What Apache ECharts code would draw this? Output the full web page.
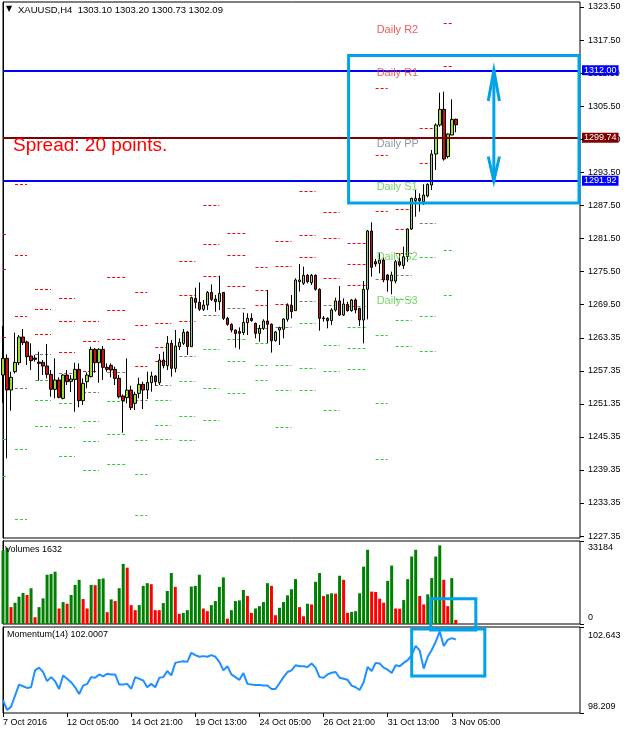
<!DOCTYPE html>
<html><head><meta charset="utf-8">
<script src="https://cdn.jsdelivr.net/npm/echarts/dist/echarts.min.js"></script>
<style>html,body{margin:0;padding:0;background:#fff}#c{width:626px;height:734px}</style>
</head><body><div id="c"></div>
<script>
// ---------- DATA ----------
const opens = [1256.61,1259.64,1253.89,1257.22,1258.85,1263.52,1262.61,1260.07,1259.70,1258.97,1258.91,1258.25,1256.73,1254.01,1255.70,1252.37,1256.61,1255.46,1255.82,1257.64,1251.95,1255.40,1256.31,1261.28,1258.85,1261.28,1258.01,1258.37,1257.64,1256.01,
1252.79,1252.49,1253.88,1251.46,1253.28,1254.92,1253.88,1255.22,1256.43,1255.22,1259.34,1258.31,1262.37,1257.82,1261.76,1262.37,1264.43,1261.76,1270.54,1269.82,1268.55,1269.33,1271.63,1270.42,1269.94,1271.63,1266.91,1265.82,1264.79,1264.50,
1264.31,1266.13,1266.92,1266.01,1264.19,1265.10,1266.43,1265.83,1262.86,1264.80,1264.92,1266.74,1269.28,1268.31,1273.58,1273.28,1274.73,1273.40,1274.73,1272.19,1266.86,1266.92,1266.50,1268.43,1270.07,1267.52,1269.46,1268.31,1270.25,1268.73,
1266.61,1272.19,1282.79,1277.21,1276.91,1277.52,1274.79,1273.70,1273.70,1277.21,1276.49,1278.12,1283.15,1288.30,1288.72,1288.12,1289.15,1291.15,1296.78,1302.05,1304.90,1296.30,1300.23,1303.10];
const highs = [1265.52,1260.37,1257.22,1264.31,1263.88,1264.97,1262.85,1262.37,1260.25,1260.85,1259.34,1262.25,1257.52,1259.64,1256.19,1256.80,1257.52,1256.61,1258.85,1258.73,1256.01,1257.10,1261.76,1261.50,1261.46,1261.88,1258.73,1258.73,1258.13,1256.61,
1253.10,1259.64,1254.67,1253.58,1256.13,1255.40,1257.22,1257.22,1256.61,1260.43,1260.85,1263.70,1262.97,1264.79,1263.27,1264.97,1264.61,1270.85,1272.48,1273.45,1270.24,1271.88,1273.09,1271.15,1274.66,1271.70,1267.21,1266.00,1264.85,1265.28,
1267.95,1267.83,1267.83,1266.13,1265.71,1266.74,1272.07,1266.01,1264.62,1265.40,1266.92,1269.64,1271.16,1274.19,1276.79,1276.31,1274.98,1274.98,1274.92,1272.37,1267.34,1267.10,1268.74,1270.67,1272.80,1270.55,1269.95,1270.43,1270.55,1268.85,
1273.70,1282.97,1284.36,1277.70,1278.73,1278.00,1274.97,1275.40,1277.52,1278.73,1279.94,1283.27,1288.85,1290.24,1289.63,1291.27,1291.45,1297.51,1302.35,1307.93,1308.11,1300.54,1306.72,1303.20];
const lows = [1251.58,1241.47,1250.13,1256.91,1258.43,1262.06,1258.43,1257.52,1259.04,1255.58,1256.61,1256.01,1252.67,1252.37,1252.37,1252.19,1254.79,1253.52,1249.95,1250.74,1251.16,1254.19,1256.19,1257.04,1255.22,1255.70,1257.22,1256.19,1254.79,1252.37,
1246.13,1251.46,1250.25,1250.25,1252.37,1250.43,1252.25,1253.58,1254.67,1254.79,1257.82,1257.52,1256.31,1257.10,1261.16,1262.06,1260.25,1261.76,1268.73,1268.24,1268.24,1268.42,1270.06,1268.12,1268.42,1266.61,1265.58,1264.37,1261.58,1261.28,
1263.89,1263.89,1266.31,1263.28,1262.68,1264.80,1262.38,1260.68,1262.68,1262.07,1263.28,1266.31,1266.92,1268.31,1271.77,1272.98,1273.28,1272.98,1271.95,1264.68,1266.31,1265.10,1265.71,1268.13,1267.34,1267.34,1268.13,1268.13,1267.82,1265.52,
1262.37,1266.73,1274.49,1276.31,1275.09,1273.46,1271.76,1271.28,1273.28,1276.31,1275.88,1277.21,1282.97,1285.39,1286.30,1287.51,1288.91,1290.24,1293.87,1301.75,1295.57,1295.99,1300.23,1300.73];
const closes = [1259.64,1253.89,1256.19,1258.91,1263.52,1262.49,1259.95,1259.22,1259.46,1258.73,1258.25,1256.73,1254.01,1255.70,1252.55,1256.61,1255.40,1255.88,1257.64,1251.95,1255.10,1256.61,1261.28,1258.85,1261.28,1258.01,1257.64,1257.52,1256.01,1252.67,
1251.95,1253.88,1250.67,1253.10,1254.92,1253.88,1255.28,1256.43,1255.40,1259.34,1258.31,1262.37,1257.82,1261.88,1262.55,1264.37,1261.76,1270.67,1269.82,1268.55,1269.33,1271.63,1270.36,1269.94,1271.45,1266.91,1265.82,1264.79,1264.18,1264.19,
1266.19,1266.92,1266.50,1264.19,1265.10,1266.43,1265.83,1262.86,1264.44,1265.22,1266.80,1269.28,1268.13,1273.89,1273.89,1274.73,1273.58,1274.73,1272.19,1266.92,1266.98,1266.50,1268.43,1270.07,1267.52,1269.52,1268.31,1270.25,1268.43,1266.61,
1272.19,1282.79,1276.18,1276.79,1277.52,1273.88,1273.88,1274.79,1277.21,1276.61,1278.12,1283.15,1288.72,1288.72,1288.30,1289.33,1291.27,1296.78,1302.05,1304.90,1295.87,1300.42,1303.08,1302.09];
const volumes = [29408,30487,6745,8499,10927,12411,11601,14299,2698,6745,10252,19695,19965,20910,6205,8769,8094,11601,15648,17672,9983,6205,15648,15514,17942,18212,4722,9848,9173,14299,
24012,22528,7554,5531,7554,15244,16323,15918,5531,5531,8364,13220,20370,14839,4047,4452,5531,14974,15244,19695,6205,5126,7554,9173,14839,18616,2158,5531,9173,9443,
13625,11197,4452,6205,7150,8769,16323,15244,3507,6475,8769,11467,13895,17942,6745,3103,8094,7824,16863,20370,11197,11871,12276,12141,19291,17672,4452,4856,5126,12276,
22933,29678,12950,12816,10118,8499,17267,23338,6205,6071,9578,17942,26980,29678,11197,7824,11871,18346,26980,31432,17672,7150,18346,1632];
const momentum = [98.872,98.366,98.523,99.099,99.675,99.588,99.501,99.536,100.409,100.548,100.321,99.850,100.059,99.850,99.448,100.147,99.972,99.797,99.536,99.187,99.623,99.710,100.059,100.024,100.199,100.094,100.234,100.199,100.199,99.675,
99.675,99.710,99.448,100.059,99.972,99.885,99.536,99.710,99.536,100.024,100.059,100.374,100.147,100.793,100.845,100.880,100.845,101.316,101.194,101.107,101.142,101.107,101.194,101.107,100.845,100.409,100.618,100.199,100.059,99.920,
100.269,99.710,99.675,99.658,99.658,99.623,99.623,99.448,99.448,99.745,100.059,100.321,100.409,100.670,100.618,100.618,100.583,100.758,100.548,100.059,100.024,100.199,100.286,100.321,100.024,99.972,99.920,99.623,99.536,99.396,
99.797,100.583,100.374,100.793,100.758,100.548,100.443,100.269,100.670,100.618,100.793,100.932,101.194,101.665,101.421,100.496,101.107,101.456,101.892,102.416,101.665,101.980,102.067,102.0007];

const priceTicks = [1323.50,1317.50,1311.50,1305.50,1299.50,1293.50,1287.50,1281.50,1275.50,1269.50,1263.35,1257.35,1251.35,1245.35,1239.35,1233.35,1227.35];
const volumeTicks = [0,33184];
const momentumTicks = [98.209,102.643];
const tickBars = [0,16,32,48,64,80,96,112];
const tickLabels = ['7 Oct 2016','12 Oct 05:00','14 Oct 21:00','19 Oct 13:00','24 Oct 05:00','26 Oct 21:00','31 Oct 13:00','3 Nov 05:00'];

// daily pivot levels (one value per trading day)
const dayStart = [0,3,8,14,20,26,33,38,44,50,56,63,68,74,80,86,93,98,104,110];
const dayEnd   = [1,6,12,18,24,31,36,42,48,54,61,66,72,78,84,91,96,102,108,112];
const pivR3 = [1282.15,1291.24,1272.25,1270.56,1266.36,1274.38,1271.62,1265.98,1277.27,1287.42,1282.34,1276.20,1280.84,1289.99,1286.16,1280.65,1308.66,1286.78,1311.80,1334.75];
const pivR2 = [1275.76,1278.33,1268.55,1266.36,1262.72,1268.30,1265.61,1261.60,1271.06,1280.33,1278.45,1271.94,1276.39,1281.97,1281.46,1276.70,1296.50,1283.15,1301.51,1320.52];
const pivR1 = [1263.48,1267.30,1263.98,1260.84,1257.21,1263.10,1258.15,1259.09,1266.36,1274.51,1272.69,1269.24,1269.56,1278.02,1274.19,1273.00,1286.35,1278.79,1295.07,1312.74];
const pivPP = [1257.21,1254.26,1260.34,1256.90,1253.57,1257.08,1252.07,1254.70,1260.09,1267.42,1268.74,1265.20,1265.23,1269.93,1269.37,1269.12,1274.04,1274.79,1284.28,1299.74];
const pivS1 = [1244.86,1243.17,1255.64,1251.44,1248.19,1251.76,1244.68,1251.95,1255.39,1261.35,1263.04,1262.47,1258.46,1265.98,1262.10,1265.36,1263.92,1270.43,1278.06,1291.92];
const pivS2 = [1238.28,1230.32,1251.95,1247.18,1244.49,1245.80,1238.66,1247.56,1249.19,1254.26,1259.03,1258.46,1253.89,1257.90,1257.34,1261.41,1251.57,1266.61,1267.23,1279.20];
const pivS3 = [1226.24,1219.04,1247.37,1241.92,1239.22,1240.47,1231.20,1245.00,1244.68,1248.43,1253.26,1255.58,1247.18,1253.76,1250.13,1257.71,1241.35,1261.76,1260.85,1271.19];

const hLevels = [1312.00, 1299.74, 1291.92];
const bidPrice = 1302.09;
const spreadText = 'Spread: 20 points.';

// ---------- CHART ----------
const FONT = 'Liberation Sans, Arial, sans-serif';
const slots = 145;
const cats = Array.from({length: slots}, (_, i) => String(i));
const n = opens.length;
const candleData = opens.map((o, i) => [o, closes[i], lows[i], highs[i]]);
const volData = volumes.map((v, i) => ({value: v, itemStyle: {color: (i === 0 || v > volumes[i - 1]) ? '#008000' : '#ff0000'}}));
const isTick = idx => tickBars.indexOf(idx) >= 0;

const header = 'XAUUSD,H4  ' + [opens[n-1], highs[n-1], lows[n-1], closes[n-1]].map(v => v.toFixed(2)).join(' ');

const G = [
  {left: 3, top: 2, width: 577, height: 536},
  {left: 3, top: 541, width: 577, height: 83},
  {left: 3, top: 627, width: 577, height: 86}
];

function catAxis(gi, showLabels) {
  return {
    type: 'category', gridIndex: gi, data: cats, boundaryGap: false,
    axisLine: {show: false},
    axisTick: {show: showLabels, interval: (i) => isTick(i), length: 4, lineStyle: {color: '#000'}},
    axisLabel: {show: showLabels, interval: (i) => isTick(i), formatter: (v, i) => tickLabels[tickBars.indexOf(i)] || '',
      align: 'left', margin: 5, fontSize: 9, color: '#000', fontFamily: FONT},
    splitLine: {show: false}
  };
}
function valXAxis(gi) {
  return {type: 'value', gridIndex: gi, min: 0, max: slots - 1, show: false};
}
function rightAxis(gi, min, max, ticks, fmt, rich) {
  return {
    type: 'value', gridIndex: gi, position: 'right', min: min, max: max,
    axisLine: {show: true, lineStyle: {color: '#000', width: 1}},
    axisTick: {show: false},
    axisLabel: {show: true, customValues: ticks, formatter: fmt, margin: 8, fontSize: 9, color: '#000', fontFamily: FONT, rich: rich},
    splitLine: {show: false}, splitArea: {show: false}, minorTick: {show: false}
  };
}
const volRich = {
  t: {padding: [13, 0, 0, 0], fontSize: 9, color: '#000', fontFamily: FONT},
  b: {padding: [0, 0, 13, 0], fontSize: 9, color: '#000', fontFamily: FONT}
};
const momRich = {
  t: {padding: [18, 0, 0, 0], fontSize: 9, color: '#000', fontFamily: FONT},
  b: {padding: [0, 0, 13, 0], fontSize: 9, color: '#000', fontFamily: FONT}
};

const pivotSets = [
  {vals: pivR3, color: '#ff0000'}, {vals: pivR2, color: '#ff0000'}, {vals: pivR1, color: '#ff0000'},
  {vals: pivPP, color: '#7a7a7a'},
  {vals: pivS1, color: '#33cc33'}, {vals: pivS2, color: '#33cc33'}, {vals: pivS3, color: '#33cc33'}
];
const pivotSeries = pivotSets.map(p => ({
  type: 'lines', coordinateSystem: 'cartesian2d', xAxisIndex: 1, yAxisIndex: 0, polyline: false, silent: true, z: 1,
  lineStyle: {color: p.color, width: 1, type: [3, 2], opacity: 1},
  data: dayStart.map((s, k) => ({coords: [[s, p.vals[k]], [dayEnd[k], p.vals[k]]]}))
}));

const last = pivR2.length - 1;
const dailyLabels = [
  {name: 'Daily R2', v: pivR2[last], c: '#ee3333'},
  {name: 'Daily R1', v: pivR1[last], c: '#ee3333'},
  {name: 'Daily PP', v: pivPP[last], c: '#6f7f8f'},
  {name: 'Daily S1', v: pivS1[last], c: '#55cc44'},
  {name: 'Daily S2', v: pivS2[last], c: '#55cc44'},
  {name: 'Daily S3', v: pivS3[last], c: '#55cc44'}
];

// right-side tick marks, drawn through each panel's own scales
function tickSeries(xi, yi, ticks) {
  return {
    type: 'custom', xAxisIndex: xi, yAxisIndex: yi, clip: false, silent: true, z: 10,
    data: ticks.map(v => [slots - 1, v]),
    renderItem: (params, api) => {
      const p = api.coord([api.value(0), api.value(1)]);
      const y = Math.round(p[1]) + 0.5;
      return {type: 'line', shape: {x1: p[0], y1: y, x2: p[0] + 4, y2: y}, style: {stroke: '#000', lineWidth: 1}};
    }
  };
}

const lineLabel = (bg) => ({show: true, position: 'end', distance: 2, formatter: p => p.value.toFixed(2),
  color: '#fff', backgroundColor: bg, padding: [1, 2, 0, 2], fontSize: 9, fontFamily: FONT});

const chart = echarts.init(document.getElementById('c'), null, {renderer: 'canvas'});
chart.setOption({
  animation: false,
  backgroundColor: '#fff',
  title: [
    {text: '\u25BC', left: 6, top: 5, padding: 0, textStyle: {fontSize: 8, color: '#000', fontWeight: 'normal', fontFamily: 'DejaVu Sans'}},
    {text: header, left: 18, top: 5, padding: 0, textStyle: {fontSize: 9.5, color: '#000', fontWeight: 'normal', fontFamily: FONT}},
    {text: spreadText, left: 13, top: 136, padding: 0, textStyle: {fontSize: 19, color: '#ff0000', fontWeight: 'normal', fontFamily: FONT}},
    {text: 'Volumes ' + volumes[n-1], left: 5, top: 545, padding: 0, textStyle: {fontSize: 9, color: '#000', fontWeight: 'normal', fontFamily: FONT}},
    {text: 'Momentum(14) ' + momentum[n-1].toFixed(4), left: 7, top: 630, padding: 0, textStyle: {fontSize: 9, color: '#000', fontWeight: 'normal', fontFamily: FONT}}
  ],
  grid: G.map(g => Object.assign({show: true, borderColor: '#000', borderWidth: 1, backgroundColor: 'transparent', containLabel: false}, g)),
  xAxis: [catAxis(0, false), valXAxis(0), catAxis(1, false), catAxis(2, true), valXAxis(1), valXAxis(2)],
  yAxis: [
    rightAxis(0, 1226.99, 1324.41, priceTicks, v => v.toFixed(2)),
    rightAxis(1, 0, 33184, volumeTicks, v => v > 0 ? '{t|' + v + '}' : '{b|' + v + '}', volRich),
    rightAxis(2, 98.209, 102.643, momentumTicks, v => v > 100 ? '{t|' + v.toFixed(3) + '}' : '{b|' + v.toFixed(3) + '}', momRich)
  ],
  series: [
    ...pivotSeries,
    {
      type: 'candlestick', xAxisIndex: 0, yAxisIndex: 0, data: candleData, barWidth: 3, z: 3,
      itemStyle: {color: '#9be030', color0: '#cc1111', borderColor: '#000', borderColor0: '#000', borderWidth: 1},
      markLine: {
        silent: true, symbol: 'none', animation: false,
        data: [
          {yAxis: hLevels[0], lineStyle: {color: '#0000ff', width: 2, type: 'solid'}, label: lineLabel('#0000ff')},
          {yAxis: hLevels[1], lineStyle: {color: '#800000', width: 2, type: 'solid'}, label: lineLabel('#800000')},
          {yAxis: hLevels[2], lineStyle: {color: '#0000ff', width: 2, type: 'solid'}, label: lineLabel('#0000ff')},
          {yAxis: bidPrice, lineStyle: {opacity: 0, width: 0}, label: lineLabel('#000000')}
        ]
      }
    },
    {
      type: 'scatter', xAxisIndex: 1, yAxisIndex: 0, symbolSize: 0, z: 5, silent: true,
      data: dailyLabels.map(d => ({value: [93.25, d.v, d.name], label: {color: d.c}})),
      label: {show: true, formatter: p => p.value[2], position: [0, 1], align: 'left', verticalAlign: 'top', fontSize: 11, fontFamily: FONT}
    },
    {type: 'bar', xAxisIndex: 2, yAxisIndex: 1, data: volData, barWidth: 3, silent: true},
    {type: 'line', xAxisIndex: 3, yAxisIndex: 2, data: momentum, symbol: 'none', silent: true, lineStyle: {color: '#1e90ff', width: 2}},
    tickSeries(1, 0, priceTicks),
    tickSeries(4, 1, volumeTicks),
    tickSeries(5, 2, momentumTicks)
  ]
});

// ---------- ANNOTATIONS (user-drawn objects, placed in data coordinates) ----------
const boxes = [
  {axes: {xAxisIndex: 1, yAxisIndex: 0}, from: [86.25, 1314.67], to: [143.75, 1287.87]},
  {axes: {xAxisIndex: 4, yAxisIndex: 1}, from: [106.75, 10117], to: [118, -2428]},
  {axes: {xAxisIndex: 5, yAxisIndex: 2}, from: [102, 102.54], to: [120.25, 100.117]}
];
const arrow = {x: 122.5, half: 1.4, top: hLevels[0], bottom: hLevels[2], headTop: 1306.41, headBottom: 1296.33};
const BOXC = '#00a2e8';
const gfx = boxes.map(b => {
  const p1 = chart.convertToPixel(b.axes, b.from), p2 = chart.convertToPixel(b.axes, b.to);
  return {type: 'rect', shape: {x: p1[0], y: p1[1], width: p2[0] - p1[0], height: p2[1] - p1[1]},
    style: {fill: 'none', stroke: BOXC, lineWidth: 3}, z: 100, silent: true};
});
const M = {xAxisIndex: 1, yAxisIndex: 0};
const P = (x, y) => chart.convertToPixel(M, [x, y]);
gfx.push({type: 'polyline', shape: {points: [P(arrow.x, arrow.top), P(arrow.x, arrow.bottom)]}, style: {stroke: BOXC, lineWidth: 3, fill: 'none'}, z: 100, silent: true});
gfx.push({type: 'polyline', shape: {points: [P(arrow.x - arrow.half, arrow.headTop), P(arrow.x, arrow.top), P(arrow.x + arrow.half, arrow.headTop)]}, style: {stroke: BOXC, lineWidth: 3, fill: 'none'}, z: 100, silent: true});
gfx.push({type: 'polyline', shape: {points: [P(arrow.x - arrow.half, arrow.headBottom), P(arrow.x, arrow.bottom), P(arrow.x + arrow.half, arrow.headBottom)]}, style: {stroke: BOXC, lineWidth: 3, fill: 'none'}, z: 100, silent: true});
chart.setOption({graphic: gfx});
</script>
</body></html>
